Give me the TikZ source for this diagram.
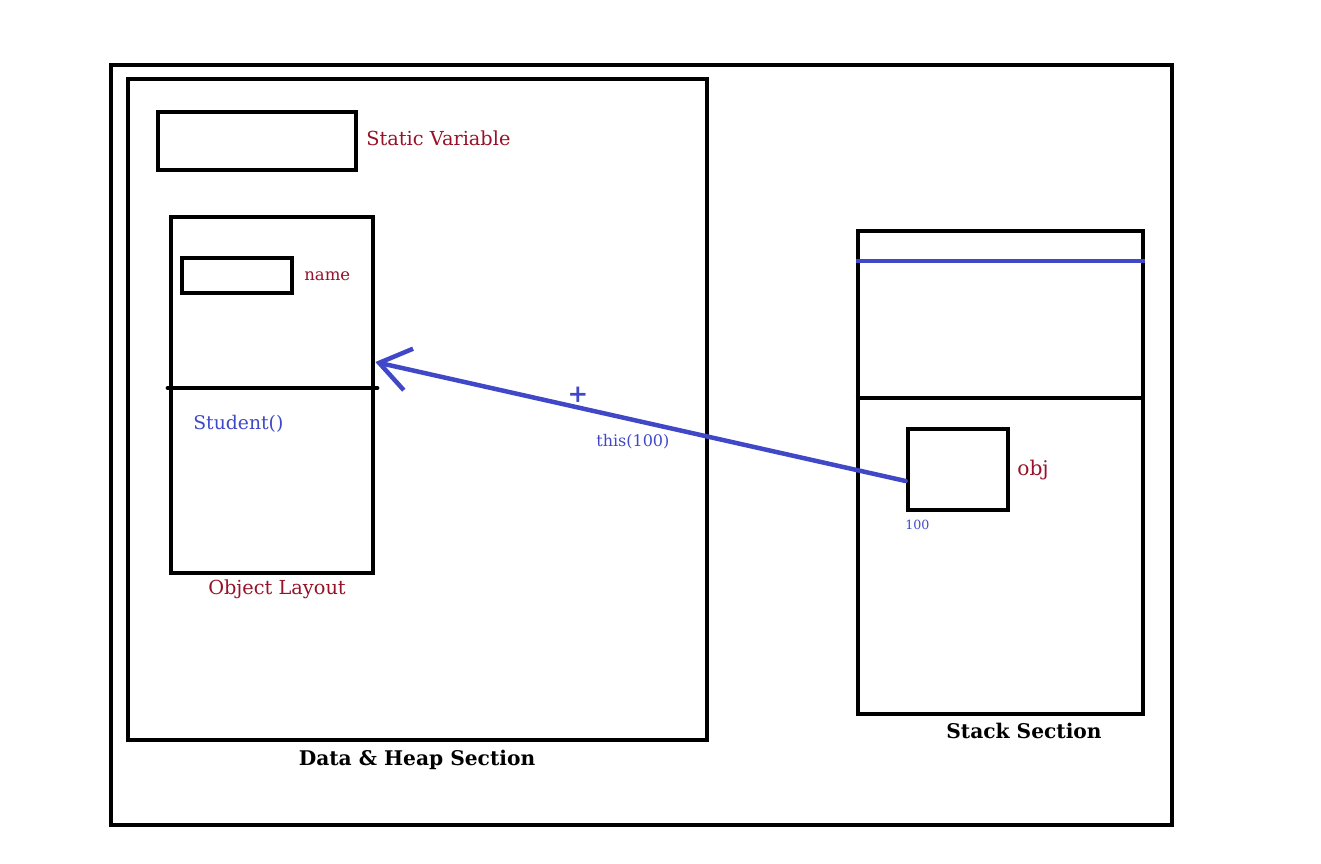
\documentclass[tikz,border=0pt]{standalone}
\usepackage{fontspec}
\setmainfont{DejaVu Serif}
\usepackage{tikz}
\usetikzlibrary{arrows.meta,positioning,calc}
\definecolor{memred}{RGB}{150,18,40}
\definecolor{memblue}{RGB}{64,72,200}

\begin{document}
\begin{tikzpicture}[x=0.02cm, y=-0.02cm,
  box/.style={draw=black, line width=0.095cm, inner sep=0pt},
  redlabel/.style={font=\fontsize{11}{13}\selectfont\color{memred}, inner sep=0pt},
  bluelabel/.style={font=\fontsize{10.7}{12}\selectfont\color{memblue}, inner sep=0pt},
  seclabel/.style={font=\fontsize{11.5}{13}\selectfont\bfseries, inner sep=0pt},
  ref/.style={draw=memblue, line width=0.09cm, line cap=round,
    -{Straight Barb[length=0.6cm, width=0.85cm, line width=0.09cm]}}
]
\useasboundingbox (0,0) rectangle (1321,863);
% outer frame and the two sections
\node[box, minimum width=21.22cm, minimum height=15.2cm] (memory) at (641.5,445) {};
\node[box, minimum width=11.58cm, minimum height=13.22cm] (heap) at (417.5,409.5) {};
\node[box, minimum width=5.7cm, minimum height=9.66cm] (stack) at (1000.5,472.5) {};

% data & heap
\node[box, minimum width=3.96cm, minimum height=1.16cm] (static) at (257,141) {};
\node[redlabel, anchor=west] (staticlbl) at (366,138) {Static Variable};
\node[box, minimum width=4.04cm, minimum height=7.12cm] (layout) at (272,395) {};
\draw[line width=0.095cm, line cap=round] (168,388) -- (377,388);
\node[box, minimum width=2.2cm, minimum height=0.7cm] (namebox) at (237,275.5) {};
\node[redlabel, anchor=west, font=\fontsize{9.4}{11}\selectfont\color{memred}] (namelbl) at (304,276) {name};
\node[bluelabel, anchor=west] (ctor) at (193,424) {Student()};
\node[redlabel] (layoutlbl) at (277,589) {Object Layout};
\node[seclabel] (heaplbl) at (417,760) {Data \& Heap Section};

% stack
\draw[draw=memblue, line width=0.095cm] (stack.west |- 0,261) -- (stack.east |- 0,261);
\draw[line width=0.095cm] (stack.west |- 0,398) -- (stack.east |- 0,398);
\node[box, minimum width=2.0cm, minimum height=1.62cm] (obj) at (958,469.5) {};
\node[redlabel, anchor=west, font=\fontsize{11.5}{13}\selectfont\color{memred}] (objlbl) at (1017,470) {obj};
\node[bluelabel, anchor=west, font=\fontsize{7.2}{9}\selectfont\color{memblue}] (addr) at (905,525) {100};
\node[seclabel] (stacklbl) at (1024,731) {Stack Section};

% reference from obj back to the object
\draw[ref] ([yshift=-0.23cm]obj.west) -- ([yshift=0.66cm]layout.east);
\node[font=\fontsize{14}{14}\selectfont\bfseries\color{memblue}, inner sep=0pt] (mark) at (578,395) {+};
\node[bluelabel, anchor=west, font=\fontsize{9.1}{11}\selectfont\color{memblue}] (thislbl) at (596,442) {this(100)};
\end{tikzpicture}
\end{document}
